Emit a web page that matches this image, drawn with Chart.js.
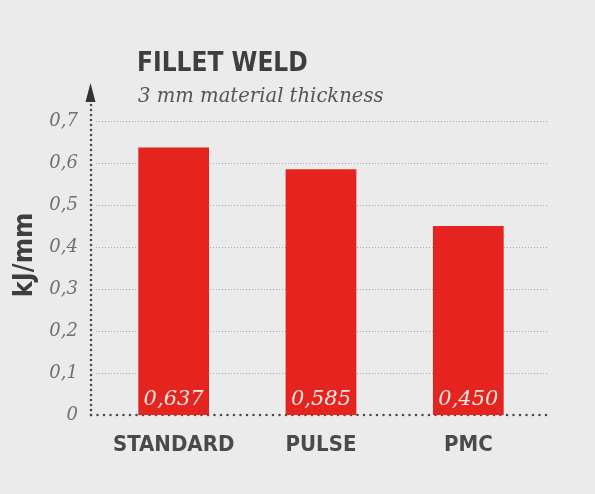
<!DOCTYPE html>
<html>
<head>
<meta charset="utf-8">
<script src="https://cdn.jsdelivr.net/npm/chart.js@4/dist/chart.umd.min.js"></script>
<style>
  html, body { margin: 0; padding: 0; background: #ebebeb; }
  #wrap { width: 595px; height: 494px; }
</style>
</head>
<body>
<div id="wrap"><canvas id="weldChart" width="595" height="494"></canvas></div>
<script>
const categories = ['STANDARD', 'PULSE', 'PMC'];
const heatInput = [0.637, 0.585, 0.450];
const valueLabels = ['0,637', '0,585', '0,450'];
const yTicks = [0, 0.1, 0.2, 0.3, 0.4, 0.5, 0.6, 0.7];
const yTickLabels = ['0', '0,1', '0,2', '0,3', '0,4', '0,5', '0,6', '0,7'];

const axisX = 91;

// dotted grid, axes, arrow, titles
const decorPlugin = {
    id: 'decor',
    beforeDatasetsDraw(chart) {
        const ctx = chart.ctx;
        const y = chart.scales.y;
        ctx.save();
        // light grid
        ctx.strokeStyle = '#a9a9a9';
        ctx.lineWidth = 1;
        ctx.setLineDash([1, 2]);
        yTicks.forEach(v => {
            if (v === 0) return;
            const py = Math.round(y.getPixelForValue(v)) + 0.5;
            ctx.beginPath();
            ctx.moveTo(axisX + 5, py);
            ctx.lineTo(548, py);
            ctx.stroke();
        });
        // heavy dotted axes
        ctx.strokeStyle = '#4a4a4a';
        ctx.lineWidth = 2.6;
        ctx.lineCap = 'round';
        ctx.setLineDash([0, 5]);
        const zero = y.getPixelForValue(0);
        ctx.beginPath();
        ctx.moveTo(axisX, zero);
        ctx.lineTo(axisX, 104);
        ctx.stroke();
        ctx.setLineDash([0, 6.5]);
        ctx.beginPath();
        ctx.moveTo(axisX, zero);
        ctx.lineTo(548, zero);
        ctx.stroke();
        ctx.setLineDash([]);
        // arrow head
        ctx.fillStyle = '#333';
        ctx.beginPath();
        ctx.moveTo(axisX - 0.5, 83);
        ctx.lineTo(axisX + 4.5, 102);
        ctx.lineTo(axisX - 5.5, 102);
        ctx.closePath();
        ctx.fill();
        ctx.restore();
    },
    afterDatasetsDraw(chart) {
        const ctx = chart.ctx;
        const meta = chart.getDatasetMeta(0);
        const zero = chart.scales.y.getPixelForValue(0);
        ctx.save();
        ctx.fillStyle = '#fde9e4';
        ctx.font = 'italic 21px "DejaVu Serif", serif';
        ctx.textAlign = 'center';
        ctx.textBaseline = 'alphabetic';
        meta.data.forEach((bar, i) => {
            ctx.fillText(valueLabels[i], bar.x, zero - 10);
        });
        // titles
        ctx.textAlign = 'left';
        ctx.fillStyle = '#3e3e3e';
        ctx.font = 'bold 26px "DejaVu Sans Condensed", sans-serif';
        ctx.fillText('FILLET WELD', 137, 71);
        ctx.fillStyle = '#555';
        ctx.font = 'italic 19.6px "DejaVu Serif", serif';
        ctx.fillText('3 mm material thickness', 138, 102);
        // y title
        ctx.translate(32, 255);
        ctx.rotate(-Math.PI / 2);
        ctx.textAlign = 'center';
        ctx.fillStyle = '#3e3e3e';
        ctx.font = 'bold 27px "DejaVu Sans Condensed", sans-serif';
        ctx.fillText('kJ/mm', 0, 0);
        ctx.restore();
    }
};

new Chart(document.getElementById('weldChart').getContext('2d'), {
    type: 'bar',
    data: {
        labels: categories,
        datasets: [{
            data: heatInput,
            backgroundColor: '#e5231f',
            borderWidth: 0,
            barPercentage: 0.96,
            categoryPercentage: 0.5
        }]
    },
    options: {
        responsive: false,
        animation: false,
        events: [],
        layout: { padding: { top: 121, right: 53, bottom: 0, left: 0 } },
        plugins: { legend: { display: false }, tooltip: { enabled: false } },
        scales: {
            x: {
                grid: { display: false, drawTicks: false },
                border: { display: false },
                ticks: {
                    color: '#4a4a4a',
                    padding: 17,
                    font: { family: '"DejaVu Sans Condensed", sans-serif', weight: 'bold', size: 22 }
                },
                afterFit(scale) { scale.height = 79; }
            },
            y: {
                min: 0,
                max: 0.7,
                grid: { display: false, drawTicks: false },
                border: { display: false },
                afterBuildTicks(scale) {
                    scale.ticks = yTicks.map(v => ({ value: v }));
                },
                ticks: {
                    color: '#707070',
                    padding: 22,
                    font: { family: '"DejaVu Serif", serif', style: 'italic', size: 18 },
                    callback: (v) => yTickLabels[yTicks.indexOf(Math.round(v * 10) / 10)]
                },
                afterFit(scale) { scale.width = 100; }
            }
        }
    },
    plugins: [decorPlugin]
});
</script>
</body>
</html>
